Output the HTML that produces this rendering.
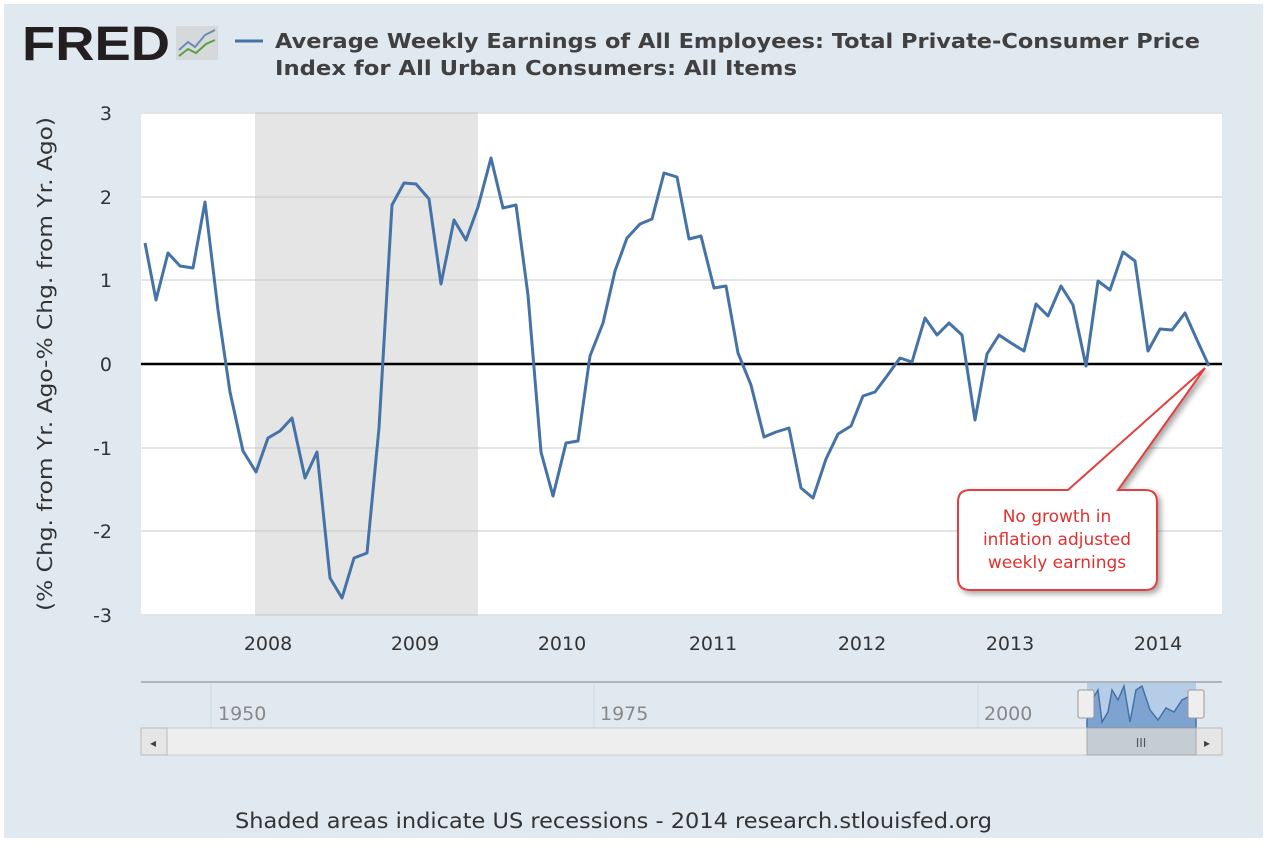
<!DOCTYPE html>
<html><head><meta charset="utf-8"><style>
body{margin:0;background:#fff;}
svg text{font-family:"DejaVu Sans","Liberation Sans",sans-serif;}
</style></head><body>
<svg width="1267" height="842" viewBox="0 0 1267 842" xmlns="http://www.w3.org/2000/svg">
<defs><filter id="sh" x="-20%" y="-20%" width="150%" height="150%"><feDropShadow dx="3" dy="3" stdDeviation="3" flood-color="#000" flood-opacity="0.35"/></filter></defs>
<rect x="4" y="4" width="1259" height="834" fill="#e1e9f0"/>
<text x="22" y="60" font-size="48" font-weight="bold" fill="#231f20" textLength="148" lengthAdjust="spacingAndGlyphs" style="font-family:'Liberation Sans',sans-serif">FRED</text>
<rect x="176" y="26" width="42" height="34" fill="#d6d9dc"/>
<polyline points="179,50 188,42 195,47 205,35 215,30" fill="none" stroke="#6a8cb3" stroke-width="2"/>
<polyline points="179,56 188,49 196,53 206,44 215,40" fill="none" stroke="#5aa040" stroke-width="2"/>
<line x1="235" y1="41" x2="263" y2="41" stroke="#4572a7" stroke-width="3"/>
<text x="275" y="48" font-size="20" font-weight="bold" fill="#404040" textLength="925" lengthAdjust="spacingAndGlyphs">Average Weekly Earnings of All Employees: Total Private-Consumer Price</text>
<text x="275" y="75" font-size="20" font-weight="bold" fill="#404040" textLength="522" lengthAdjust="spacingAndGlyphs">Index for All Urban Consumers: All Items</text>
<rect x="141" y="112" width="1081" height="504" fill="#fff"/>
<rect x="255" y="112" width="223" height="504" fill="#e5e5e5"/>
<g stroke="#c8c8c8" stroke-width="1">
<line x1="141" y1="113" x2="1222" y2="113"/><line x1="141" y1="197" x2="1222" y2="197"/>
<line x1="141" y1="280" x2="1222" y2="280"/><line x1="141" y1="448" x2="1222" y2="448"/>
<line x1="141" y1="531" x2="1222" y2="531"/><line x1="141" y1="615" x2="1222" y2="615"/>
</g>
<line x1="141" y1="364" x2="1222" y2="364" stroke="#000" stroke-width="2.5"/>
<g font-size="19" fill="#333" text-anchor="end">
<text x="112" y="120">3</text><text x="112" y="204">2</text><text x="112" y="287">1</text>
<text x="112" y="371">0</text><text x="112" y="455">-1</text><text x="112" y="538">-2</text><text x="112" y="622">-3</text>
</g>
<text transform="translate(52,364) rotate(-90)" font-size="20" fill="#333" text-anchor="middle" textLength="494" lengthAdjust="spacingAndGlyphs">(% Chg. from Yr. Ago-% Chg. from Yr. Ago)</text>
<g font-size="19" fill="#333" text-anchor="middle">
<text x="268" y="650">2008</text><text x="415" y="650">2009</text><text x="562" y="650">2010</text>
<text x="713" y="650">2011</text><text x="862" y="650">2012</text><text x="1010" y="650">2013</text><text x="1158" y="650">2014</text>
</g>
<polyline fill="none" stroke="#4572a7" stroke-width="3" stroke-linejoin="round" points="145,243 156,300 168,253 180,266 193,268 205,202 218,310 230,392 243,451 256,472 268,438 280,431 292,418 305,478 317,452 330,578 342,598 354,558 367,553 379,428 392,205 404,183 416,184 429,199 441,284 454,220 466,240 478,207 491,158 503,208 516,205 528,295 541,452 553,496 566,443 578,441 590,356 603,323 615,271 627,238 640,224 652,219 664,173 677,177 689,239 701,236 714,288 726,286 738,353 751,385 764,437 776,432 789,428 801,488 813,498 826,459 838,434 851,426 863,396 875,392 887,376 900,358 912,362 925,318 937,335 949,323 962,335 975,420 987,354 999,335 1011,343 1024,351 1036,304 1048,316 1061,286 1073,305 1086,366 1098,281 1110,290 1123,252 1135,261 1148,351 1160,329 1172,330 1185,313 1197,340 1209,366"/>
<path d="M972,490 L1068,490 L1205,368 L1118,490 L1145,490 Q1157,490 1157,502 L1157,578 Q1157,590 1145,590 L970,590 Q958,590 958,578 L958,502 Q958,490 970,490 Z" fill="#fff" stroke="#e04040" stroke-width="2" filter="url(#sh)"/>
<g font-size="17" fill="#e03030" text-anchor="middle" style="font-family:'Liberation Sans',sans-serif">
<text x="1057" y="522">No growth in</text><text x="1057" y="545">inflation adjusted</text><text x="1057" y="568">weekly earnings</text>
</g>
<line x1="141" y1="682" x2="1222" y2="682" stroke="#b0b4b8" stroke-width="2"/>
<g stroke="#d0d8e0"><line x1="211" y1="683" x2="211" y2="728"/><line x1="594" y1="683" x2="594" y2="728"/><line x1="978" y1="683" x2="978" y2="728"/></g>
<g font-size="19" fill="#888"><text x="218" y="720">1950</text><text x="600" y="720">1975</text><text x="984" y="720">2000</text></g>
<rect x="1087" y="683" width="109" height="45" fill="#b6cde8"/>
<path d="M1087,720 L1092,700 L1098,690 L1102,722 L1108,712 L1112,690 L1118,700 L1124,686 L1130,722 L1136,690 L1142,686 L1150,710 L1158,720 L1166,708 L1174,712 L1182,700 L1190,696 L1196,692 L1196,728 L1087,728 Z" fill="#7fa3d0" stroke="#4572a7" stroke-width="1.5"/>
<rect x="1078" y="690" width="16" height="28" rx="2" fill="#eee" stroke="#999"/>
<rect x="1188" y="690" width="16" height="28" rx="2" fill="#eee" stroke="#999"/>
<rect x="141" y="728" width="1081" height="27" fill="#eee" stroke="#ccc"/>
<rect x="141" y="728" width="26" height="27" fill="#e6e6e6" stroke="#bbb"/>
<rect x="1196" y="728" width="26" height="27" fill="#e6e6e6" stroke="#bbb"/>
<rect x="1087" y="728" width="109" height="27" fill="#c4ccd4" stroke="#aaa"/>
<text x="1141" y="747" font-size="12" fill="#555" text-anchor="middle">III</text>
<text x="150" y="747" font-size="12" fill="#444">◂</text><text x="1204" y="747" font-size="12" fill="#444">▸</text>
<text x="235" y="828" font-size="21" fill="#333" textLength="757" lengthAdjust="spacingAndGlyphs">Shaded areas indicate US recessions - 2014 research.stlouisfed.org</text>
</svg>
</body></html>
